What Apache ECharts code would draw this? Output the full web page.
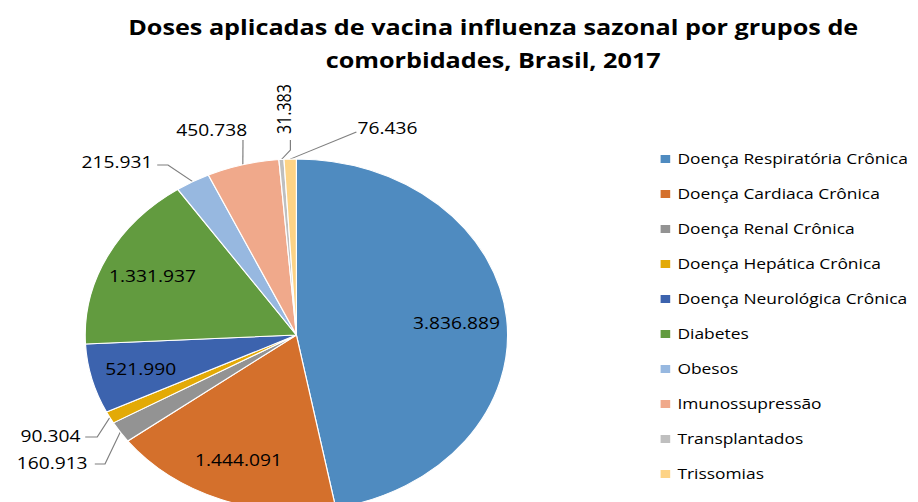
<!DOCTYPE html>
<html lang="pt-BR">
<head>
<meta charset="utf-8">
<title>Doses aplicadas de vacina influenza sazonal</title>
<script src="https://cdn.jsdelivr.net/npm/echarts@6/dist/echarts.min.js"></script>
<style>
    html, body { margin: 0; padding: 0; background: #fff; overflow: hidden; }
    /* o gráfico original está esticado na horizontal, daí o scaleX */
    #chart { width: 765px; height: 502px; transform: scaleX(1.2); transform-origin: 0 0; }
</style>
</head>
<body>
<div id="chart"></div>
<script>
// grupos de comorbidade (mesma ordem da legenda)
const categories = [
    'Doença Respiratória Crônica',
    'Doença Cardiaca Crônica',
    'Doença Renal Crônica',
    'Doença Hepática Crônica',
    'Doença Neurológica Crônica',
    'Diabetes',
    'Obesos',
    'Imunossupressão',
    'Transplantados',
    'Trissomias'
]
// doses aplicadas
const doses = [3836889, 1444091, 160913, 90304, 521990, 1331937, 215931, 450738, 31383, 76436]
// fatias com o rótulo por dentro
const insideLabel = [true, true, false, false, true, true, false, false, false, false]

const colors = ['#4f8bc0', '#d4702c', '#939393', '#e3aa06', '#3c63ae', '#629b3f', '#97b8e0', '#f0a98b', '#bfbfbf', '#fdd386']

// rótulos de fora: posição do texto e dobra/fim da linha guia (arrumados à mão, como no Excel)
const outsideLabels = {
    'Doença Renal Crônica':    { x: 73,  y: 463, align: 'right', bend: [87.5, 464], end: [79, 464] },
    'Doença Hepática Crônica': { x: 67,  y: 436, align: 'right', bend: [81, 437],   end: [71, 437] },
    'Obesos':                  { x: 127, y: 162, align: 'right', bend: [140, 165],  end: [131, 165] },
    'Imunossupressão':         { x: 206, y: 130, align: 'right', bend: [202.5, 140], end: [202.5, 140] },
    'Transplantados':          { x: 236, y: 134, align: 'left',  bend: [242, 150],  end: [242, 140] },
    'Trissomias':              { x: 298, y: 128, align: 'left',  bend: [297, 132],  end: [297, 132] },
}

// 3836889 -> 3.836.889
const fmt = (v) => String(v).replace(/\B(?=(\d{3})+(?!\d))/g, '.')

const font = '"Open Sans", Lato, sans-serif'

const myChart = echarts.init(document.getElementById('chart'), null, { renderer: 'svg' })

myChart.setOption({
    animation: false,
    title: {
        text: 'Doses aplicadas de vacina influenza sazonal por grupos de\ncomorbidades, Brasil, 2017',
        left: 411,
        top: 10,
        padding: 0,
        textAlign: 'center',
        textStyle: {
            fontFamily: font,
            fontSize: 21,
            fontWeight: 'bold',
            lineHeight: 33,
            color: '#000',
        },
    },
    legend: {
        orient: 'vertical',
        left: 548.5,
        top: 151,
        padding: 0,
        icon: 'rect',
        itemWidth: 10,
        itemHeight: 10,
        itemGap: 19,
        selectedMode: false,
        textStyle: {
            fontFamily: font,
            fontSize: 14.5,
            lineHeight: 16,
            color: '#000',
        },
        data: categories,
    },
    series: [
        {
            // fatias + rótulos de fora
            type: 'pie',
            center: [247, 335],
            radius: 176,
            startAngle: 90,
            silent: true,
            avoidLabelOverlap: false,
            itemStyle: { borderColor: '#fff', borderWidth: 1 },
            label: {
                fontFamily: font,
                fontSize: 16,
                color: '#000',
                formatter: (p) => fmt(p.value),
            },
            labelLine: {
                length: 15,
                length2: 10,
                lineStyle: { color: '#7f7f7f', width: 1 },
            },
            labelLayout: function (params) {
                const o = outsideLabels[categories[params.dataIndex]]
                if (!o || !params.labelLinePoints) return {}
                const edge = params.labelLinePoints[0]
                return {
                    x: o.x,
                    y: o.y,
                    align: o.align,
                    verticalAlign: 'middle',
                    labelLinePoints: [edge, o.bend, o.end],
                }
            },
            data: categories.map((name, i) => ({
                name: name,
                value: doses[i],
                itemStyle: { color: colors[i] },
                label: { show: !insideLabel[i], rotate: name === 'Transplantados' ? 90 : 0 },
                labelLine: { show: !insideLabel[i] },
            })),
        },
        {
            // série transparente só para os rótulos internos (ficam a ~3/4 do raio)
            type: 'pie',
            center: [247, 335],
            radius: [0, 262],
            startAngle: 90,
            silent: true,
            itemStyle: { color: 'rgba(0,0,0,0)' },
            label: {
                position: 'inside',
                fontFamily: font,
                fontSize: 16,
                color: '#000',
                formatter: (p) => fmt(p.value),
            },
            labelLine: { show: false },
            data: categories.map((name, i) => ({
                name: name,
                value: doses[i],
                label: { show: insideLabel[i] },
            })),
        },
    ],
})
</script>
</body>
</html>
